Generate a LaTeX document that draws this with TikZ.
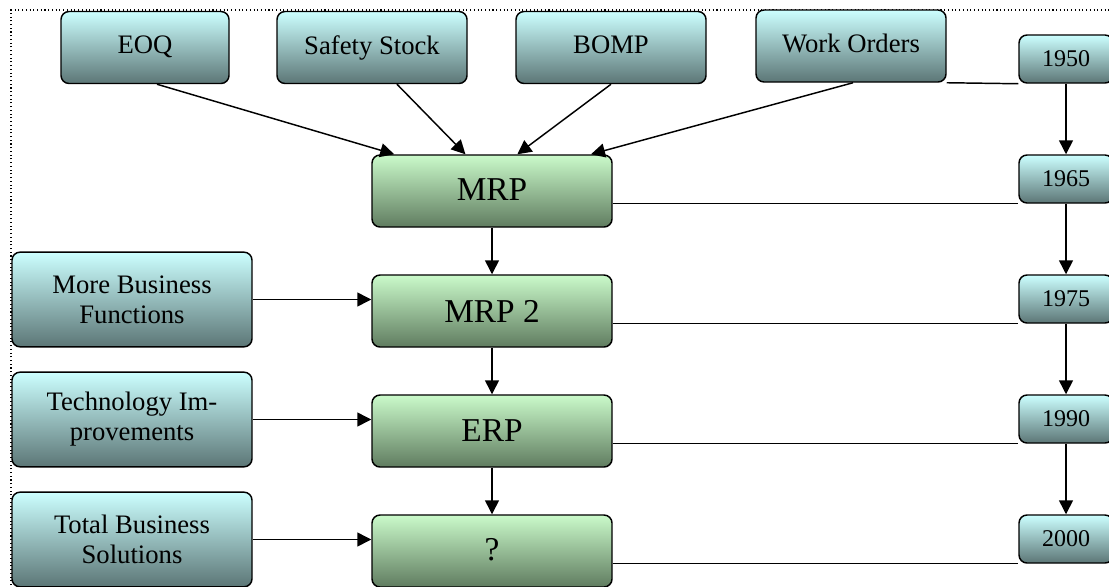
\documentclass[tikz,border=0pt]{standalone}
\usepackage{fontspec}
\setmainfont{Liberation Serif}
\usetikzlibrary{arrows.meta}
\usetikzlibrary{calc}
\tikzset{box/.style = {draw, line width=1.1pt, rounded corners=6pt, align=center,
                       inner sep=0pt},
         bluebox/.style = {box, top color=cyanlt, bottom color=cyandk},
         greenbox/.style = {box, top color=greenlt, bottom color=greendk,
                            minimum width=180pt, minimum height=54pt, font=\fontsize{25}{28}\selectfont},
         topbox/.style = {bluebox, minimum height=54pt, font=\fontsize{20}{22}\selectfont},
         sidebox/.style = {bluebox, minimum width=180pt, minimum height=71pt, font=\fontsize{20}{22.5}\selectfont},
         yearbox/.style = {bluebox, minimum width=70.5pt, minimum height=36pt, font=\fontsize{18}{20}\selectfont},
         arr/.style = {line width=1.1pt, -{Triangle[length=10.5pt, width=10.5pt]}},
         link/.style = {line width=1.1pt}}
\definecolor{cyanlt}{RGB}{204, 255, 255}
\definecolor{cyandk}{RGB}{92, 118, 118}
\definecolor{greenlt}{RGB}{202, 250, 202}
\definecolor{greendk}{RGB}{96, 124, 96}

\begin{document}
\begin{tikzpicture}[x=0.75pt, y=-0.75pt]
    \useasboundingbox (0, 0) rectangle (1109, 586);
    \clip (0, 0) rectangle (1109, 586);
    \draw [dotted, line width=0.8pt] (11, 600) -- (11, 10) -- (1120, 10);

    % top inputs
    \node [topbox, minimum width=126pt] (eoq) at (145, 47.5) {\raisebox{4pt}{EOQ}};
    \node [topbox, minimum width=142.5pt] (safety) at (372, 47.5) {\raisebox{4pt}{Safety Stock}};
    \node [topbox, minimum width=142.5pt] (bomp) at (611, 47.5) {\raisebox{4pt}{BOMP}};
    \node [topbox, minimum width=142.5pt] (orders) at (851, 46) {\raisebox{4pt}{Work Orders}};

    % main column
    \node [greenbox] (mrp) at (492, 191) {\raisebox{2pt}{MRP}};
    \node [greenbox] (mrptwo) at (492, 311) {MRP 2};
    \node [greenbox] (erp) at (492, 431) {ERP};
    \node [greenbox] (next) at (492, 551) {\raisebox{2pt}{?}};

    % side inputs
    \node [sidebox] (functions) at (132, 299.5) {More Business\\Functions};
    \node [sidebox] (technology) at (132, 419.5) {Technology Im-\\provements};
    \node [sidebox] (solutions) at (132, 539.5) {Total Business\\Solutions};

    % years
    \node [yearbox] (yr1950) at (1066, 59) {1950};
    \node [yearbox] (yr1965) at (1066, 179) {1965};
    \node [yearbox] (yr1975) at (1066, 299) {1975};
    \node [yearbox] (yr1990) at (1066, 419) {1990};
    \node [yearbox] (yr2000) at (1066, 539) {2000};

    \draw [arr] ($(eoq.south)+(12, 0)$) -- ($(mrp.north west)!0.095!(mrp.north east)$);
    \draw [arr] ($(safety.south)+(25, 0)$) -- ($(mrp.north west)!0.39!(mrp.north east)$);
    \draw [arr] (bomp.south) -- ($(mrp.north west)!0.605!(mrp.north east)$);
    \draw [arr] ($(orders.south)+(2, 0)$) -- ($(mrp.north west)!0.91!(mrp.north east)$);

    \draw [arr] (mrp) -- (mrptwo);
    \draw [arr] (mrptwo) -- (erp);
    \draw [arr] (erp.south) -- (next.north);

    \draw [arr] (functions.east) -- (functions.east -| mrptwo.west);
    \draw [arr] (technology.east) -- (technology.east -| erp.west);
    \draw [arr] (solutions.east) -- (solutions.east -| next.west);

    \draw [arr] (yr1950) -- (yr1965);
    \draw [arr] (yr1965) -- (yr1975);
    \draw [arr] (yr1975) -- (yr1990);
    \draw [arr] (yr1990) -- (yr2000);

    \draw [link] (orders.south east) -- (yr1950.south west);
    \draw [link] (mrp.east |- yr1965.south west) -- (yr1965.south west);
    \draw [link] (mrptwo.east |- yr1975.south west) -- (yr1975.south west);
    \draw [link] (erp.east |- yr1990.south west) -- (yr1990.south west);
    \draw [link] (next.east |- yr2000.south west) -- (yr2000.south west);
\end{tikzpicture}
\end{document}
